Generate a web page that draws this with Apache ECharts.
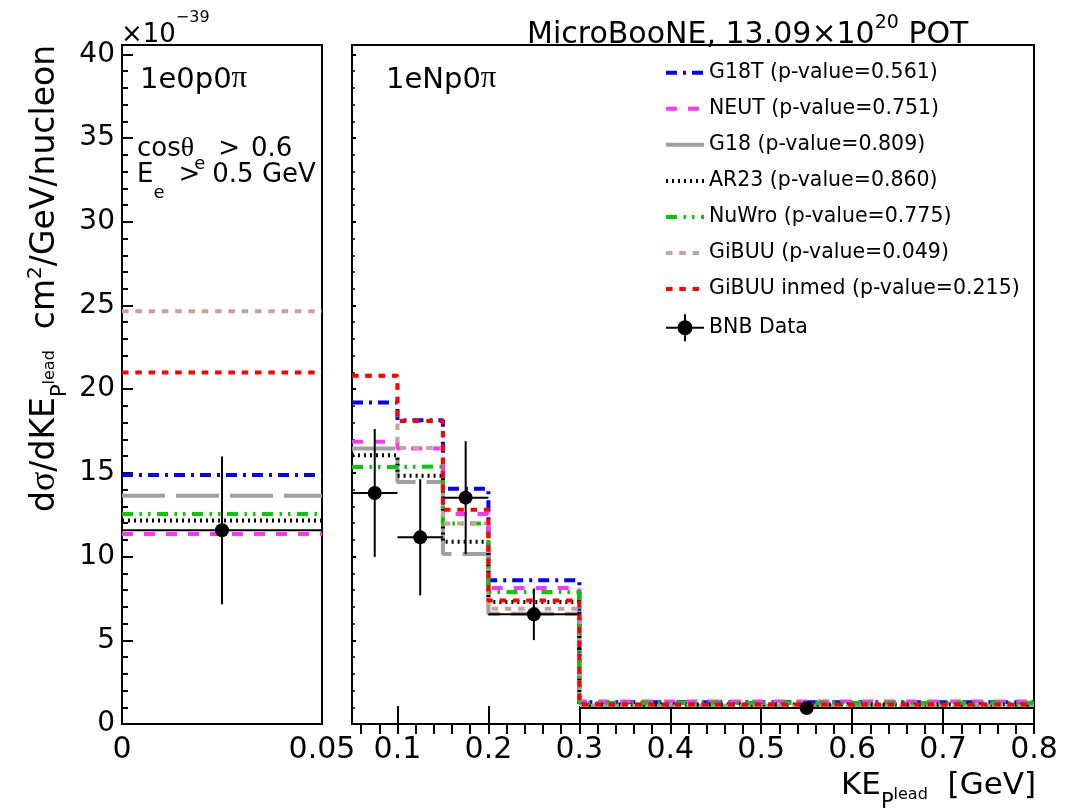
<!DOCTYPE html>
<html>
<head>
<meta charset="utf-8">
<script src="https://cdn.jsdelivr.net/npm/echarts@6/dist/echarts.min.js"></script>
<style>
  html, body { margin: 0; padding: 0; background: #fff; }
  #chart { width: 1073px; height: 809px; }
</style>
</head>
<body>
<div id="chart"></div>
<script>
// Fonts
const SANS = 'DejaVu Sans';
const SERIF = 'Liberation Serif';

// Bin edges of the two signal channels (KE of the leading proton, GeV)
const edges0p = [0, 0.05];
const edgesNp = [0.05, 0.1, 0.15, 0.2, 0.3, 0.8];

// Tick labels
const xTicks0p = [0, 0.05];
const xTicksNp = [0.1, 0.2, 0.3, 0.4, 0.5, 0.6, 0.7, 0.8];
const yTicks = [0, 5, 10, 15, 20, 25, 30, 35, 40];

// Generator names and p-values shown in the legend
const modelNames = ['G18T', 'NEUT', 'G18', 'AR23', 'NuWro', 'GiBUU', 'GiBUU inmed'];
const pValues = ['0.561', '0.751', '0.809', '0.860', '0.775', '0.049', '0.215'];

// Predicted cross sections (x 1e-39 cm^2/GeV/nucleon)
const g18t0p = [14.87];
const g18tNp = [19.20, 18.15, 14.06, 8.58, 1.30];
const neut0p = [11.35];
const neutNp = [16.86, 16.45, 12.54, 8.12, 1.34];
const g18_0p = [13.64];
const g18_Np = [16.45, 14.45, 10.15, 6.59, 1.09];
const ar23_0p = [12.16];
const ar23_Np = [16.05, 14.83, 10.89, 7.29, 1.16];
const nuwro0p = [12.54];
const nuwroNp = [15.35, 15.39, 11.98, 7.89, 1.25];
const gibuu0p = [24.65];
const gibuuNp = [20.80, 16.49, 11.98, 6.89, 1.05];
const gibuuInmed0p = [20.99];
const gibuuInmedNp = [20.81, 18.10, 12.80, 7.38, 1.17];

// Measured BNB data and total uncertainty
const data0p = [11.57];
const dataErr0p = [4.41];
const dataNp = [13.80, 11.15, 13.52, 6.55, 0.96];
const dataErrNp = [3.82, 3.47, 3.37, 1.54, 0.15];

// Line appearance per generator (ROOT-like dash patterns)
const lineStyles = [
  { color: '#0000ff', dash: [11, 6, 3, 6] },               // G18T
  { color: '#ff33ff', dash: [11, 11] },                    // NEUT
  { color: '#a0a0a0', dash: [43, 11] },                    // G18
  { color: '#000000', dash: [2, 4] },                      // AR23
  { color: '#00cc00', dash: [11, 6.5, 2.5, 6, 2.5, 6.5] }, // NuWro
  { color: '#c9a19c', dash: [6.5, 6.8] },                  // GiBUU
  { color: '#ff0000', dash: [6.5, 6.8] }                   // GiBUU inmed
];

const pred0p = [g18t0p, neut0p, g18_0p, ar23_0p, nuwro0p, gibuu0p, gibuuInmed0p];
const predNp = [g18tNp, neutNp, g18_Np, ar23_Np, nuwroNp, gibuuNp, gibuuInmedNp];

const YMAX = 40.56;
const legendName = (i) => modelNames[i] + ' (p-value=' + pValues[i] + ')';
const DATA_NAME = 'BNB Data';

// histogram outline as a stepped polyline through the bin edges
function stepPoints(edges, vals) {
  const pts = vals.map((v, i) => [edges[i], v]);
  pts.push([edges[edges.length - 1], vals[vals.length - 1]]);
  return pts;
}

// rows for data points: [centre, value, low edge, high edge, error]
function dataRows(edges, vals, errs) {
  return vals.map((v, i) => [(edges[i] + edges[i + 1]) / 2, v, edges[i], edges[i + 1], errs[i]]);
}

function renderData(params, api) {
  const x = api.value(0), y = api.value(1), lo = api.value(2), hi = api.value(3), e = api.value(4);
  const c = api.coord([x, y]);
  const l = api.coord([lo, y]);
  const r = api.coord([hi, y]);
  const t = api.coord([x, y + e]);
  const b = api.coord([x, y - e]);
  const st = { stroke: '#000', lineWidth: 2 };
  return {
    type: 'group',
    children: [
      { type: 'line', shape: { x1: l[0], y1: l[1], x2: r[0], y2: r[1] }, style: st },
      { type: 'line', shape: { x1: t[0], y1: t[1], x2: b[0], y2: b[1] }, style: st },
      { type: 'circle', shape: { cx: c[0], cy: c[1], r: 7 }, style: { fill: '#000' } }
    ]
  };
}

const series = [];
modelNames.forEach((m, i) => {
  const common = {
    type: 'line', name: legendName(i), step: 'end', symbol: 'none', silent: true,
    animation: false, z: 2 + i,
    lineStyle: { color: lineStyles[i].color, width: 4, type: lineStyles[i].dash, cap: 'butt' },
    itemStyle: { color: lineStyles[i].color }
  };
  series.push(Object.assign({}, common, { xAxisIndex: 0, yAxisIndex: 0, data: stepPoints(edges0p, pred0p[i]) }));
  series.push(Object.assign({}, common, { xAxisIndex: 1, yAxisIndex: 2, data: stepPoints(edgesNp, predNp[i]) }));
});
[[0, 0, edges0p, data0p, dataErr0p], [1, 2, edgesNp, dataNp, dataErrNp]].forEach(([xi, yi, ed, v, er]) => {
  series.push({
    type: 'custom', name: DATA_NAME, xAxisIndex: xi, yAxisIndex: yi, z: 20, silent: true,
    animation: false, itemStyle: { color: '#000' },
    encode: { x: 0, y: 1 },
    renderItem: renderData,
    data: dataRows(ed, v, er)
  });
});

// minor tick positions
const yMinor = [];
for (let k = 0; k <= 40; k++) yMinor.push(k);
const xMinorNp = [];
for (let k = 3; k <= 40; k++) xMinorNp.push(k / 50);

const fmtX = (v) => String(+(+v).toFixed(2));
const fmtY = (v) => String(Math.round(v));
const tickLine = { color: '#000', width: 2 };

const xAxisBase = { type: 'value', splitLine: { show: false }, axisLine: { show: false } };
const yAxisBase = { type: 'value', min: 0, max: YMAX, position: 'left', splitLine: { show: false }, axisLine: { show: false } };
const labelX = { fontFamily: SANS, fontSize: 30, color: '#000', margin: 11, formatter: fmtX };

const dataIcon = 'path://M0,12.5H38V14.5H0Z M18,0H20V27H18Z M26.5,13.5A7.5,7.5,0,1,1,11.5,13.5A7.5,7.5,0,1,1,26.5,13.5Z';
const hiddenMarker = { color: 'rgba(0,0,0,0)', borderColor: 'rgba(0,0,0,0)', borderWidth: 0 };

const option = {
  backgroundColor: '#fff',
  animation: false,
  grid: [
    { left: 122, top: 45, width: 200, height: 679, show: true, borderColor: '#000', borderWidth: 2, backgroundColor: 'transparent', containLabel: false, outerBoundsMode: 'none' },
    { left: 352, top: 45, width: 682, height: 679, show: true, borderColor: '#000', borderWidth: 2, backgroundColor: 'transparent', containLabel: false, outerBoundsMode: 'none' }
  ],
  xAxis: [
    Object.assign({}, xAxisBase, { gridIndex: 0, min: edges0p[0], max: edges0p[1], axisTick: { show: false },
      axisLabel: Object.assign({}, labelX, { customValues: xTicks0p }) }),
    Object.assign({}, xAxisBase, { gridIndex: 1, min: edgesNp[0], max: edgesNp[edgesNp.length - 1],
      axisTick: { show: true, inside: true, length: 18, customValues: xTicksNp, lineStyle: tickLine },
      axisLabel: Object.assign({}, labelX, { customValues: xTicksNp }) }),
    Object.assign({}, xAxisBase, { gridIndex: 1, min: edgesNp[0], max: edgesNp[edgesNp.length - 1],
      axisTick: { show: true, inside: true, length: 10, customValues: xMinorNp, lineStyle: tickLine },
      axisLabel: { show: false } })
  ],
  yAxis: [
    Object.assign({}, yAxisBase, { gridIndex: 0,
      axisTick: { show: true, inside: true, length: 11, customValues: yTicks, lineStyle: tickLine },
      axisLabel: { customValues: yTicks, fontFamily: SANS, fontSize: 28, color: '#000', margin: 7, formatter: fmtY } }),
    Object.assign({}, yAxisBase, { gridIndex: 0,
      axisTick: { show: true, inside: true, length: 6, customValues: yMinor, lineStyle: tickLine },
      axisLabel: { show: false } }),
    Object.assign({}, yAxisBase, { gridIndex: 1,
      axisTick: { show: true, inside: true, length: 4, customValues: yTicks, lineStyle: tickLine },
      axisLabel: { show: false } }),
    Object.assign({}, yAxisBase, { gridIndex: 1,
      axisTick: { show: true, inside: true, length: 3, customValues: yMinor, lineStyle: { color: '#000', width: 1.5 } },
      axisLabel: { show: false } })
  ],
  legend: {
    orient: 'vertical', left: 664, top: 62, padding: 0,
    itemWidth: 38, itemHeight: 27, itemGap: 14.43, selectedMode: false,
    textStyle: { fontFamily: SANS, fontSize: 20.5, color: '#000' },
    lineStyle: { width: 4 },
    data: modelNames.map((m, i) => ({ name: legendName(i), itemStyle: hiddenMarker }))
      .concat([{ name: DATA_NAME, icon: dataIcon }])
  },
  graphic: [
    { type: 'text', x: 121, y: 8, style: {
        text: '{m|×10}{s|−39}', verticalAlign: 'top', align: 'left', fill: '#000', lineHeight: 42,
        rich: { m: { fontFamily: SANS, fontSize: 26, verticalAlign: 'top', padding: [14.7, 0, 0, 0] },
                s: { fontFamily: SANS, fontSize: 16, verticalAlign: 'top', padding: [1.8, 0, 0, 0] } } } },
    { type: 'text', x: 527, y: 12, style: {
        text: '{m|MicroBooNE, 13.09×10}{s|20}{m| POT}', verticalAlign: 'top', align: 'left', fill: '#000', lineHeight: 40,
        rich: { m: { fontFamily: SANS, fontSize: 30, verticalAlign: 'top', padding: [8.6, 0, 0, 0] },
                s: { fontFamily: SANS, fontSize: 19, verticalAlign: 'top', padding: [1.9, 0, 0, 0] } } } },
    { type: 'text', x: 140, y: 62, style: {
        text: '{m|1e0p0}{g|π}', verticalAlign: 'top', align: 'left', fill: '#000', lineHeight: 40,
        rich: { m: { fontFamily: SANS, fontSize: 29, verticalAlign: 'top', padding: [3.5, 0, 0, 0] },
                g: { fontFamily: SERIF, fontSize: 31, verticalAlign: 'top', padding: [1, 0, 0, 0] } } } },
    { type: 'text', x: 386, y: 62, style: {
        text: '{m|1eNp0}{g|π}', verticalAlign: 'top', align: 'left', fill: '#000', lineHeight: 40,
        rich: { m: { fontFamily: SANS, fontSize: 29, verticalAlign: 'top', padding: [3.5, 0, 0, 0] },
                g: { fontFamily: SERIF, fontSize: 31, verticalAlign: 'top', padding: [1, 0, 0, 0] } } } },
    // selection cuts
    { type: 'text', x: 137, y: 132, style: {
        text: '{m|cos}{g|θ}{e|e}{gt|>}{m|0.6}', verticalAlign: 'top', align: 'left', fill: '#000', lineHeight: 44,
        rich: { m: { fontFamily: SANS, fontSize: 26, verticalAlign: 'top', padding: [4, 0, 0, 0] },
                gt: { fontFamily: SANS, fontSize: 26, verticalAlign: 'top', padding: [4, 11, 0, 13] },
                g: { fontFamily: SERIF, fontSize: 28, verticalAlign: 'top', padding: [2.5, 0, 0, 0] },
                e: { fontFamily: SANS, fontSize: 18, verticalAlign: 'top', padding: [23, 0, 0, 0] } } } },
    { type: 'text', x: 137, y: 158, style: {
        text: '{m|E}{e|e}{gt|>}{m|0.5 GeV}', verticalAlign: 'top', align: 'left', fill: '#000', lineHeight: 48,
        rich: { m: { fontFamily: SANS, fontSize: 26, verticalAlign: 'top', padding: [4, 0, 0, 0] },
                gt: { fontFamily: SANS, fontSize: 26, verticalAlign: 'top', padding: [4, 12, 0, 14] },
                e: { fontFamily: SANS, fontSize: 18, verticalAlign: 'top', padding: [26, 0, 0, 0] } } } },
    // y-axis title, reading bottom to top
    { type: 'text', x: 10, y: 512, rotation: Math.PI / 2, style: {
        text: '{m|d}{g|σ}{m|/dKE}{p|P}{l|lead}{m|  cm}{s|2}{m|/GeV/nucleon}',
        verticalAlign: 'top', align: 'left', fill: '#000', lineHeight: 64,
        rich: { m: { fontFamily: SANS, fontSize: 33, verticalAlign: 'top', padding: [19.1, 0, 0, 0] },
                g: { fontFamily: SERIF, fontSize: 36, verticalAlign: 'top', padding: [16.5, 0, 0, 0] },
                p: { fontFamily: SANS, fontSize: 21, verticalAlign: 'top', padding: [40.5, 0, 0, 0] },
                l: { fontFamily: SANS, fontSize: 16, verticalAlign: 'top', padding: [31.5, 0, 0, 0] },
                s: { fontFamily: SANS, fontSize: 20, verticalAlign: 'top', padding: [16.1, 0, 0, 0] } } } },
    // x-axis title
    { type: 'text', x: 841, y: 762, style: {
        text: '{m|KE}{p|P}{l|lead}{m|  [GeV]}', verticalAlign: 'top', align: 'left', fill: '#000', lineHeight: 52,
        rich: { m: { fontFamily: SANS, fontSize: 31, verticalAlign: 'top', padding: [8.8, 0, 0, 0] },
                p: { fontFamily: SANS, fontSize: 21, verticalAlign: 'top', padding: [30.5, 0, 0, 0] },
                l: { fontFamily: SANS, fontSize: 16, verticalAlign: 'top', padding: [24.5, 0, 0, 0] } } } }
  ],
  series: series
};

const chart = echarts.init(document.getElementById('chart'), null, { renderer: 'canvas' });
chart.setOption(option);
</script>
</body>
</html>
